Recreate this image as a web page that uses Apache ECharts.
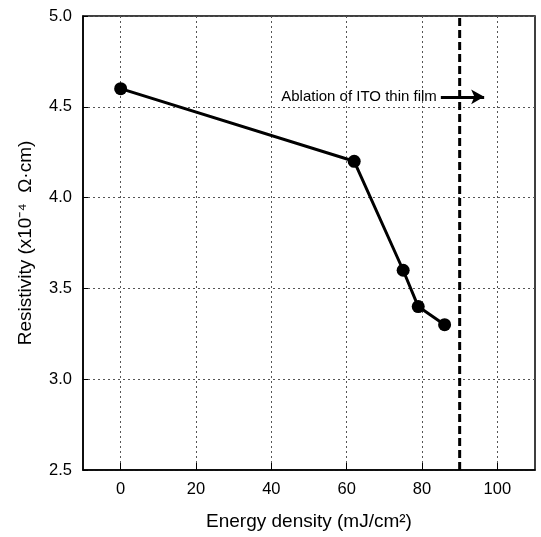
<!DOCTYPE html>
<html>
<head>
<meta charset="utf-8">
<script src="https://cdn.jsdelivr.net/npm/echarts@6/dist/echarts.min.js"></script>
<style>html,body{margin:0;padding:0;background:#fff;}#c{width:541px;height:537px;}</style>
</head>
<body>
<div id="c"></div>
<script>
const energy = [0, 62, 75, 79, 86];
const resistivity = [4.6, 4.2, 3.6, 3.4, 3.3];
const xTicks = [0, 20, 40, 60, 80, 100];
const yTicks = [2.5, 3.0, 3.5, 4.0, 4.5, 5.0];
const ablationX = 90;
const arrowStart = [85, 4.555];
const arrowEnd = [96.5, 4.555];
const annotation = 'Ablation of ITO thin film';

const FONT = 'Liberation Sans, Arial, sans-serif';
const chart = echarts.init(document.getElementById('c'));
chart.setOption({
  animation: false,
  backgroundColor: '#fff',
  grid: {left: 83, right: 6, top: 16, bottom: 67, show: true, borderColor: '#000', borderWidth: 1.5, backgroundColor: 'transparent'},
  xAxis: {
    type: 'value', min: -10, max: 110,
    axisLine: {show: true, onZero: false, lineStyle: {color: '#000', width: 1.5}},
    axisTick: {show: true, inside: true, length: 7, customValues: xTicks, lineStyle: {color: '#000'}},
    axisLabel: {color: '#000', fontSize: 16.5, fontFamily: FONT, margin: 11, customValues: xTicks},
    splitLine: {show: true, lineStyle: {color: '#555', type: [2, 3], width: 1}},
    name: 'Energy density (mJ/cm²)', nameLocation: 'middle', nameGap: 42,
    nameTextStyle: {color: '#000', fontSize: 19, fontFamily: FONT}
  },
  yAxis: {
    type: 'value', min: 2.5, max: 5.0, interval: 0.5,
    axisLine: {show: true, onZero: false, lineStyle: {color: '#000', width: 1.5}},
    axisTick: {show: true, inside: true, length: 5, lineStyle: {color: '#000'}},
    axisLabel: {color: '#000', fontSize: 16.5, fontFamily: FONT, margin: 11,
      formatter: v => yTicks.some(t => Math.abs(t - v) < 1e-6) ? v.toFixed(1) : ''},
    splitLine: {show: true, lineStyle: {color: '#555', type: [2, 3], width: 1}},
    name: 'Resistivity (x10⁻⁴  Ω·cm)', nameLocation: 'middle', nameGap: 48, nameRotate: 90,
    nameTextStyle: {color: '#000', fontSize: 19, fontFamily: FONT}
  },
  series: [
    {
      type: 'line',
      data: energy.map((x, i) => [x, resistivity[i]]),
      symbol: 'circle', symbolSize: 13,
      itemStyle: {color: '#000'},
      lineStyle: {color: '#000', width: 3},
      z: 5
    },
    {
      type: 'line',
      data: [[ablationX, 2.5], [ablationX, 5.0]],
      symbol: 'none',
      lineStyle: {color: '#000', width: 3, type: [8, 4]},
      z: 4
    },
    {
      type: 'scatter',
      data: [arrowStart],
      symbolSize: 0,
      itemStyle: {color: '#000', opacity: 1},
      label: {show: true, position: 'left', distance: 4, formatter: annotation,
        color: '#000', opacity: 1, fontSize: 15, fontFamily: FONT},
      markLine: {
        silent: true, animation: false,
        symbol: ['none', 'arrow'], symbolSize: [11, 13],
        lineStyle: {color: '#000', width: 3, type: 'solid', opacity: 1},
        label: {show: false},
        data: [[{coord: arrowStart}, {coord: arrowEnd}]]
      },
      z: 6
    }
  ]
});
</script>
</body>
</html>
